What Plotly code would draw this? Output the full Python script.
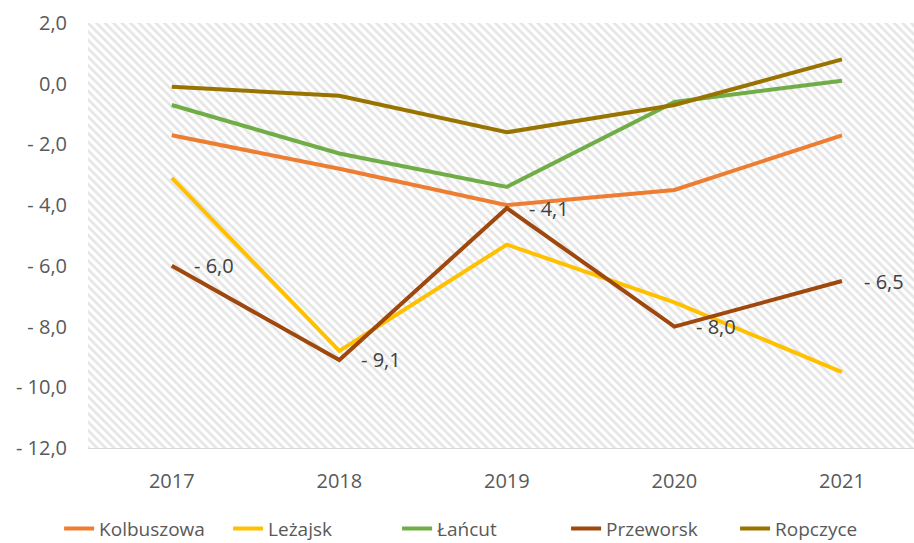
import plotly.graph_objects as go

years = [2017, 2018, 2019, 2020, 2021]
kolbuszowa = [-1.7, -2.8, -4.0, -3.5, -1.7]
lezajsk = [-3.1, -8.8, -5.3, -7.2, -9.5]
lancut = [-0.7, -2.3, -3.4, -0.6, 0.1]
przeworsk = [-6.0, -9.1, -4.1, -8.0, -6.5]
ropczyce = [-0.1, -0.4, -1.6, -0.7, 0.8]
przeworsk_labels = ["- 6,0", "- 9,1", "- 4,1", "- 8,0", "- 6,5"]

y_tickvals = [2, 0, -2, -4, -6, -8, -10, -12]
y_ticktext = ["2,0", "0,0", "- 2,0", "- 4,0", "- 6,0", "- 8,0", "- 10,0", "- 12,0"]

series = [
    ("Kolbuszowa", kolbuszowa, "#ED7D31"),
    ("Leżajsk", lezajsk, "#FFC000"),
    ("Łańcut", lancut, "#70AD47"),
    ("Przeworsk", przeworsk, "#9E480E"),
    ("Ropczyce", ropczyce, "#997300"),
]

XMIN, XMAX = 2016.5, 2021.43
YMIN, YMAX = -12, 2
FONT = "Open Sans"
GRAY = "#595959"

fig = go.Figure()

# hatched plot-area background
fig.add_trace(go.Scatter(
    x=[XMIN, XMAX + 0.2, XMAX + 0.2, XMIN, XMIN],
    y=[YMIN, YMIN, YMAX, YMAX, YMIN],
    mode="lines", line=dict(width=0), fill="toself",
    fillcolor="rgba(0,0,0,0)",
    fillpattern=dict(shape="\\", fgcolor="#cccccc", bgcolor="white", size=6, solidity=0.45),
    showlegend=False, hoverinfo="skip",
))

for name, vals, color in series:
    fig.add_trace(go.Scatter(
        x=years, y=vals, name=name, mode="lines",
        line=dict(color=color, width=4),
    ))

for x, y, t in zip(years, przeworsk, przeworsk_labels):
    fig.add_annotation(
        x=x, y=y, text=t, showarrow=False, xanchor="left", yanchor="middle",
        xshift=20, yshift=0,
        font=dict(family=FONT, size=20, color="#404040"),
    )

fig.update_layout(
    width=914, height=543,
    margin=dict(l=88, r=0, t=23, b=95, autoexpand=False),
    paper_bgcolor="white", plot_bgcolor="white",
    font=dict(family=FONT, size=19, color=GRAY),
    legend=dict(orientation="h", x=-0.035, xanchor="left", y=-0.145, yanchor="top",
                font=dict(family=FONT, size=19, color=GRAY), itemwidth=30,
                entrywidth=124, entrywidthmode="pixels",
                traceorder="normal"),
)

fig.update_xaxes(
    range=[XMIN, XMAX], tickvals=years, ticktext=[str(y) for y in years],
    showgrid=True, gridcolor="#d9d9d9", gridwidth=1,
    minor=dict(tick0=2016.5, dtick=1, showgrid=True, gridcolor="#d9d9d9", gridwidth=1),
    zeroline=False, showline=True, linecolor="#d9d9d9", linewidth=1,
    ticks="", ticklabelstandoff=15, automargin=False,
    tickfont=dict(family=FONT, size=20, color=GRAY),
)
fig.update_yaxes(
    range=[YMIN, YMAX], tickvals=y_tickvals, ticktext=y_ticktext,
    showgrid=True, gridcolor="#d9d9d9", gridwidth=1,
    zeroline=False, showline=False, ticks="", ticklabelstandoff=20,
    automargin=False,
    tickfont=dict(family=FONT, size=20, color=GRAY),
)

fig.write_html("out.html", config={"displayModeBar": False},
               post_script="document.body.style.margin='0';")
